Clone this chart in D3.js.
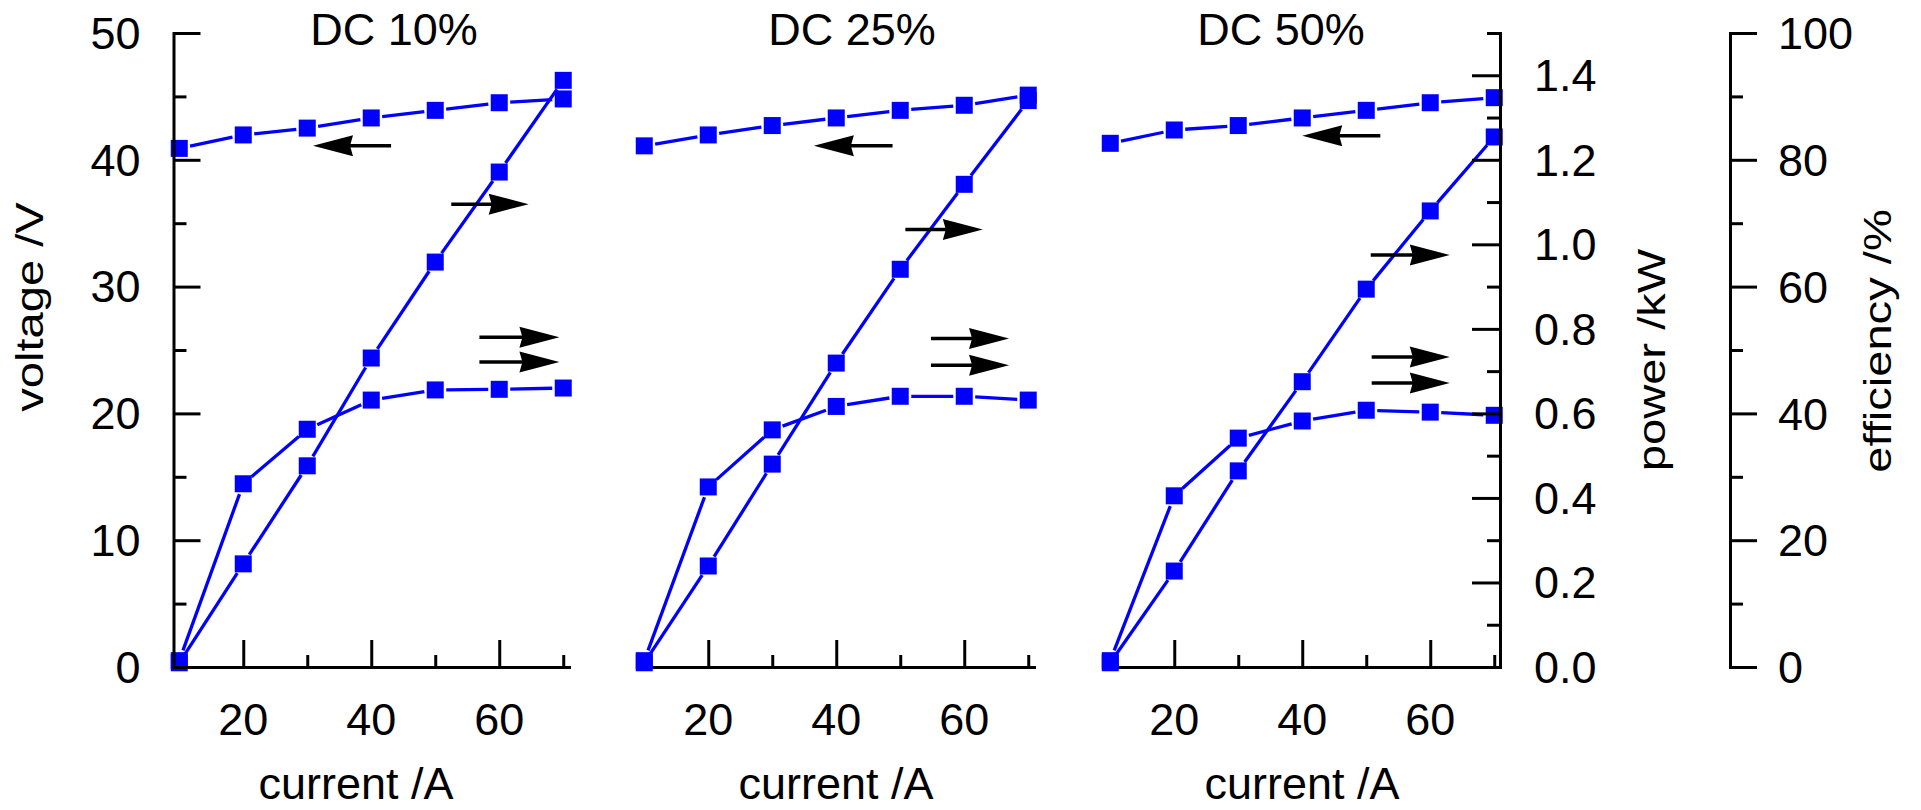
<!DOCTYPE html>
<html>
<head>
<meta charset="utf-8">
<script src="https://cdn.jsdelivr.net/npm/d3@7"></script>
<style>
  body { margin: 0; background: #fff; }
  text { font-family: "Liberation Sans", Arial, sans-serif; fill: #000; }
</style>
</head>
<body>
<svg id="chart" width="1921" height="810"></svg>
<script>
// ---- data ----
const current = [10, 20, 30, 40, 50, 60, 70];
const panelTitles = ["DC 10%", "DC 25%", "DC 50%"];

const voltage10 = [40.9, 41.96, 42.5, 43.3, 43.9, 44.5, 44.8];
const power10 = [0.01, 0.244, 0.476, 0.731, 0.958, 1.171, 1.388];
const efficiency10 = [1.0, 28.9, 37.5, 42.1, 43.7, 43.8, 44.0];

const voltage25 = [41.1, 41.96, 42.7, 43.3, 43.9, 44.3, 45.1];
const power25 = [0.01, 0.239, 0.48, 0.719, 0.941, 1.142, 1.34];
const efficiency25 = [1.0, 28.4, 37.4, 41.1, 42.7, 42.7, 42.1];

const voltage50 = [41.3, 42.35, 42.7, 43.3, 43.9, 44.5, 44.9];
const power50 = [0.01, 0.227, 0.464, 0.675, 0.894, 1.079, 1.254];
const efficiency50 = [1.0, 27.0, 36.1, 38.8, 40.5, 40.2, 39.7];

const currentTicks = [20, 40, 60];
const currentMinor = [30, 50, 70];
const voltageTicks = [0, 10, 20, 30, 40, 50];
const voltageMinor = [5, 15, 25, 35, 45];
const powerTicks = [0, 0.2, 0.4, 0.6, 0.8, 1.0, 1.2, 1.4];
const powerMinor = [0.1, 0.3, 0.5, 0.7, 0.9, 1.1, 1.3, 1.5];
const efficiencyTicks = [0, 20, 40, 60, 80, 100];
const efficiencyMinor = [10, 30, 50, 70, 90];

// axis-direction arrows per panel: [tail current, head current, level in V]
const arrows10 = [[43.1, 30.9, 41.1], [52.5, 64.6, 36.5], [56.9, 69.4, 26.0], [56.9, 69.4, 24.05]];
const arrows25 = [[48.8, 36.5, 41.1], [50.8, 62.9, 34.5], [54.8, 67.0, 25.9], [54.8, 67.0, 23.8]];
const arrows50 = [[52.2, 40.0, 41.9], [50.7, 63.05, 32.5], [50.85, 63.05, 24.45], [50.85, 63.05, 22.4]];

// ---- layout ----
const W = 1921, H = 810;
const plotTop = 33, plotBottom = 667;
const FS = 45;            // font size of horizontal lettering
const SY = 0.97;          // slight vertical squeeze of horizontal lettering
const RFS = 38;           // font size of rotated axis titles
const RSY = 1.24;         // lengthwise stretch of rotated axis titles
const blue = "#0000ff";
const panels = [
  { left: 173.5, right: 569, titleX: 394, xTitleX: 356,
    v: voltage10, p: power10, e: efficiency10, arrows: arrows10 },
  { left: 638.5, right: 1034, titleX: 852, xTitleX: 836,
    v: voltage25, p: power25, e: efficiency25, arrows: arrows25 },
  { left: 1104.5, right: 1500, titleX: 1281, xTitleX: 1302,
    v: voltage50, p: power50, e: efficiency50, arrows: arrows50 }
];
const markerW = 17, markerH = 17;
const gap = 11;
const lineW = 3.3;

const svg = d3.select("#chart");
svg.append("rect").attr("width", W).attr("height", H).attr("fill", "#fff");

const yV = d3.scaleLinear().domain([0, 50]).range([plotBottom, plotTop]);
const yP = d3.scaleLinear().domain([0, 1.5]).range([plotBottom, plotTop]);
const yE = d3.scaleLinear().domain([0, 100]).range([plotBottom, plotTop]);

function label(g, x, y, str, opts = {}) {
  const t = g.append("text")
    .attr("transform", `translate(${x},${y}) scale(1,${opts.sy ?? SY})` + (opts.rotate ? " rotate(-90)" : ""))
    .attr("font-size", opts.size ?? FS)
    .attr("text-anchor", opts.anchor ?? "middle")
    .text(str);
  if (opts.dy) t.attr("dy", opts.dy);
  return t;
}

function styleAxis(sel, keepDomain) {
  sel.selectAll(".tick line").attr("stroke", "#000").attr("stroke-width", 3);
  if (keepDomain) {
    sel.select(".domain").attr("stroke", "#000").attr("stroke-width", 3)
      .attr("stroke-linecap", "square");
  } else {
    sel.select(".domain").remove();
  }
  sel.selectAll(".tick text").remove();
}

const lineGen = d3.line();

panels.forEach((pn, i) => {
  const x = d3.scaleLinear().domain([9.1, 70.9]).range([pn.left, pn.right]);
  const g = svg.append("g");

  // x axis with inward ticks
  const gx = g.append("g").attr("transform", `translate(0,${plotBottom})`);
  gx.call(d3.axisBottom(x).tickValues(currentTicks).tickSize(-27).tickSizeOuter(0).tickFormat(""));
  styleAxis(gx, true);
  const gxm = g.append("g").attr("transform", `translate(0,${plotBottom})`);
  gxm.call(d3.axisBottom(x).tickValues(currentMinor).tickSize(-12).tickSizeOuter(0).tickFormat(""));
  styleAxis(gxm, false);
  currentTicks.forEach(v => label(g, x(v), plotBottom + 68, String(v)));
  label(g, pn.xTitleX, 799, "current /A");

  // panel title
  label(g, pn.titleX, 45, panelTitles[i]);

  // series: efficiency, power, voltage
  const series = [
    current.map((c, k) => [x(c), yE(pn.e[k])]),
    current.map((c, k) => [x(c), yP(pn.p[k])]),
    current.map((c, k) => [x(c), yV(pn.v[k])])
  ];
  series.forEach(pts => {
    for (let k = 0; k < pts.length - 1; k++) {
      const [x0, y0] = pts[k], [x1, y1] = pts[k + 1];
      const L = Math.hypot(x1 - x0, y1 - y0);
      if (L <= 2 * gap) continue;
      const ux = (x1 - x0) / L, uy = (y1 - y0) / L;
      g.append("path")
        .attr("d", lineGen([[x0 + ux * gap, y0 + uy * gap], [x1 - ux * gap, y1 - uy * gap]]))
        .attr("stroke", blue).attr("stroke-width", lineW).attr("fill", "none");
    }
  });
  series.forEach(pts => {
    g.selectAll(null).data(pts).enter().append("rect")
      .attr("x", d => d[0] - markerW / 2)
      .attr("y", d => d[1] - markerH / 2)
      .attr("width", markerW).attr("height", markerH)
      .attr("fill", blue);
  });

  // direction arrows
  pn.arrows.forEach(([from, to, lvl]) => {
    const xt = x(from), xh = x(to), yy = yV(lvl);
    const dir = Math.sign(xh - xt);
    const headL = 40, headW = 10.5;
    g.append("line")
      .attr("x1", xt).attr("x2", xh - dir * (headL - 4))
      .attr("y1", yy).attr("y2", yy)
      .attr("stroke", "#000").attr("stroke-width", 3.5);
    g.append("path")
      .attr("d", `M${xh},${yy} L${xh - dir * headL},${yy - headW} L${xh - dir * (headL - 3)},${yy} L${xh - dir * headL},${yy + headW} Z`)
      .attr("fill", "#000");
  });
});

// left voltage axis
const xVolt = panels[0].left;
const gv = svg.append("g").attr("transform", `translate(${xVolt},0)`);
gv.call(d3.axisLeft(yV).tickValues(voltageTicks).tickSize(-27).tickSizeOuter(0).tickFormat(""));
styleAxis(gv, true);
const gvm = svg.append("g").attr("transform", `translate(${xVolt},0)`);
gvm.call(d3.axisLeft(yV).tickValues(voltageMinor).tickSize(-13).tickSizeOuter(0).tickFormat(""));
styleAxis(gvm, false);
voltageTicks.forEach(v => label(svg, xVolt - 33, yV(v), String(v), { anchor: "end", dy: "0.36em" }));
label(svg, 43, 307, "voltage /V", { rotate: true, size: RFS, sy: RSY });

// right power axis
const xPow = panels[2].right;
const gp = svg.append("g").attr("transform", `translate(${xPow},0)`);
gp.call(d3.axisRight(yP).tickValues(powerTicks).tickSize(-28).tickSizeOuter(0).tickFormat(""));
styleAxis(gp, true);
const gpm = svg.append("g").attr("transform", `translate(${xPow},0)`);
gpm.call(d3.axisRight(yP).tickValues(powerMinor).tickSize(-13).tickSizeOuter(0).tickFormat(""));
styleAxis(gpm, false);
const fmtP = d3.format(".1f");
powerTicks.forEach(v => label(svg, xPow + 34, yP(v), fmtP(v), { anchor: "start", dy: "0.36em" }));
label(svg, 1665, 360, "power /kW", { rotate: true, size: RFS, sy: RSY });

// detached efficiency axis
const xEff = 1730;
const ge = svg.append("g").attr("transform", `translate(${xEff},0)`);
ge.call(d3.axisRight(yE).tickValues(efficiencyTicks).tickSize(27).tickSizeOuter(0).tickFormat(""));
styleAxis(ge, true);
const gem = svg.append("g").attr("transform", `translate(${xEff},0)`);
gem.call(d3.axisRight(yE).tickValues(efficiencyMinor).tickSize(13).tickSizeOuter(0).tickFormat(""));
styleAxis(gem, false);
efficiencyTicks.forEach(v => label(svg, xEff + 48, yE(v), String(v), { anchor: "start", dy: "0.36em", sy: 1 }));
label(svg, 1891, 341, "efficiency /%", { rotate: true, size: RFS, sy: RSY });
</script>
</body>
</html>
